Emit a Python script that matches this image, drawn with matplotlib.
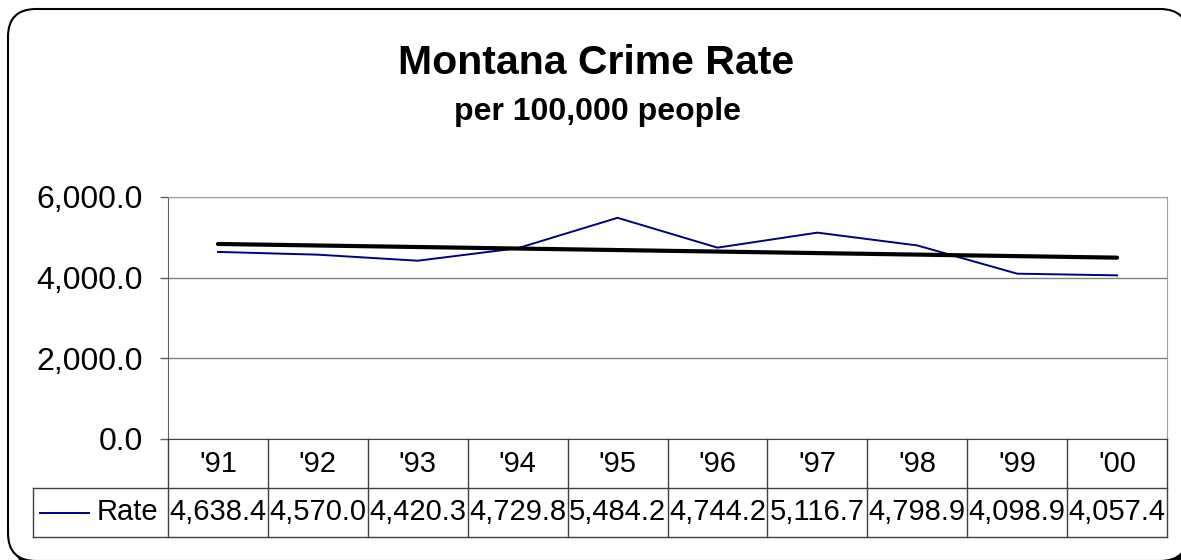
import numpy as np
import matplotlib
matplotlib.use('Agg')
import matplotlib.pyplot as plt
from matplotlib.patches import FancyBboxPatch
from matplotlib.transforms import IdentityTransform
from matplotlib.ticker import FuncFormatter

plt.rcParams['font.family'] = ['Liberation Sans', 'DejaVu Sans']

# Данные
years = ["'91", "'92", "'93", "'94", "'95", "'96", "'97", "'98", "'99", "'00"]
rate = [4638.4, 4570.0, 4420.3, 4729.8, 5484.2, 4744.2, 5116.7, 4798.9, 4098.9, 4057.4]
series_name = 'Rate'
y_ticks = [0, 2000, 4000, 6000]

W, H = 1181, 560
fig = plt.figure(figsize=(W / 100, H / 100), dpi=100)


def px_rect(x0, y0, x1, y1):
    # пиксели (сверху вниз) -> доли фигуры
    return [x0 / W, 1 - y1 / H, (x1 - x0) / W, (y1 - y0) / H]


# Рамка с закруглёнными углами и тенью (в пикселях)
shadow = FancyBboxPatch((15, H - 569), 1180, 552,
                        boxstyle='round,pad=0,rounding_size=28',
                        transform=IdentityTransform(), facecolor='black',
                        edgecolor='black', lw=1.5, zorder=-3)
fig.add_artist(shadow)
frame = FancyBboxPatch((8, H - 561), 1180, 552,
                       boxstyle='round,pad=0,rounding_size=28',
                       transform=IdentityTransform(), facecolor='white',
                       edgecolor='black', lw=1.5, zorder=-2)
fig.add_artist(frame)

# Заголовки
fig.text(596 / W, 1 - 74 / H, 'Montana Crime Rate', ha='center', va='baseline',
         fontsize=29.5, fontweight='bold')
fig.text(598 / W, 1 - 120 / H, 'per 100,000 people', ha='center', va='baseline',
         fontsize=23, fontweight='bold')

# Область графика
x0, x1 = 168, 1167
ax = fig.add_axes(px_rect(x0, 197, x1, 439))
x = np.arange(len(years))
ax.plot(x, rate, color='#000080', lw=1.4)

# Линейный тренд
k, b = np.polyfit(x, rate, 1)
ax.plot(x, k * x + b, color='black', lw=3.0, solid_capstyle='round')

ax.set_xlim(-0.5, len(years) - 0.5)
ax.set_ylim(0, 6000)
ax.set_yticks(y_ticks)
ax.yaxis.set_major_formatter(FuncFormatter(lambda v, p: f'{v:,.1f}'))
ax.tick_params(axis='y', length=6, width=1, color='#606060', pad=12, labelsize=23)
ax.set_xticks([])
ax.grid(axis='y', color='#808080', lw=1)
ax.set_axisbelow(True)
for s in ['top', 'right']:
    ax.spines[s].set_color('#a0a0a0')
ax.spines['left'].set_color('#606060')
ax.spines['bottom'].set_color('#404040')

# Таблица данных
cell_w = (x1 - x0) / len(years)
t_left = 33
tax = fig.add_axes(px_rect(t_left, 439, x1, 537))
tax.set_xlim(-0.5 - (x0 - t_left) / cell_w, len(years) - 0.5)
tax.set_ylim(0, 2)
tax.axis('off')
lc = '#404040'
tax.plot([tax.get_xlim()[0], len(years) - 0.5], [1, 1], color=lc, lw=1, clip_on=False)
tax.plot([tax.get_xlim()[0], len(years) - 0.5], [0, 0], color=lc, lw=1, clip_on=False)
tax.plot([tax.get_xlim()[0]] * 2, [0, 1], color=lc, lw=1, clip_on=False)
for i in range(len(years) + 1):
    tax.plot([i - 0.5, i - 0.5], [0, 2], color=lc, lw=1, clip_on=False)

for i, (yr, v) in enumerate(zip(years, rate)):
    tax.text(i, 1.5, yr, ha='center', va='center', fontsize=21)
    tax.text(i, 0.5, f'{v:,.1f}', ha='center', va='center', fontsize=21)

lx = tax.get_xlim()[0]
tax.plot([lx + 7 / cell_w, lx + 56 / cell_w], [0.5, 0.5], color='#000080', lw=1.4, clip_on=False)
tax.text(lx + 64 / cell_w, 0.5, series_name, ha='left', va='center', fontsize=21)

fig.savefig('out.png', dpi=100)
